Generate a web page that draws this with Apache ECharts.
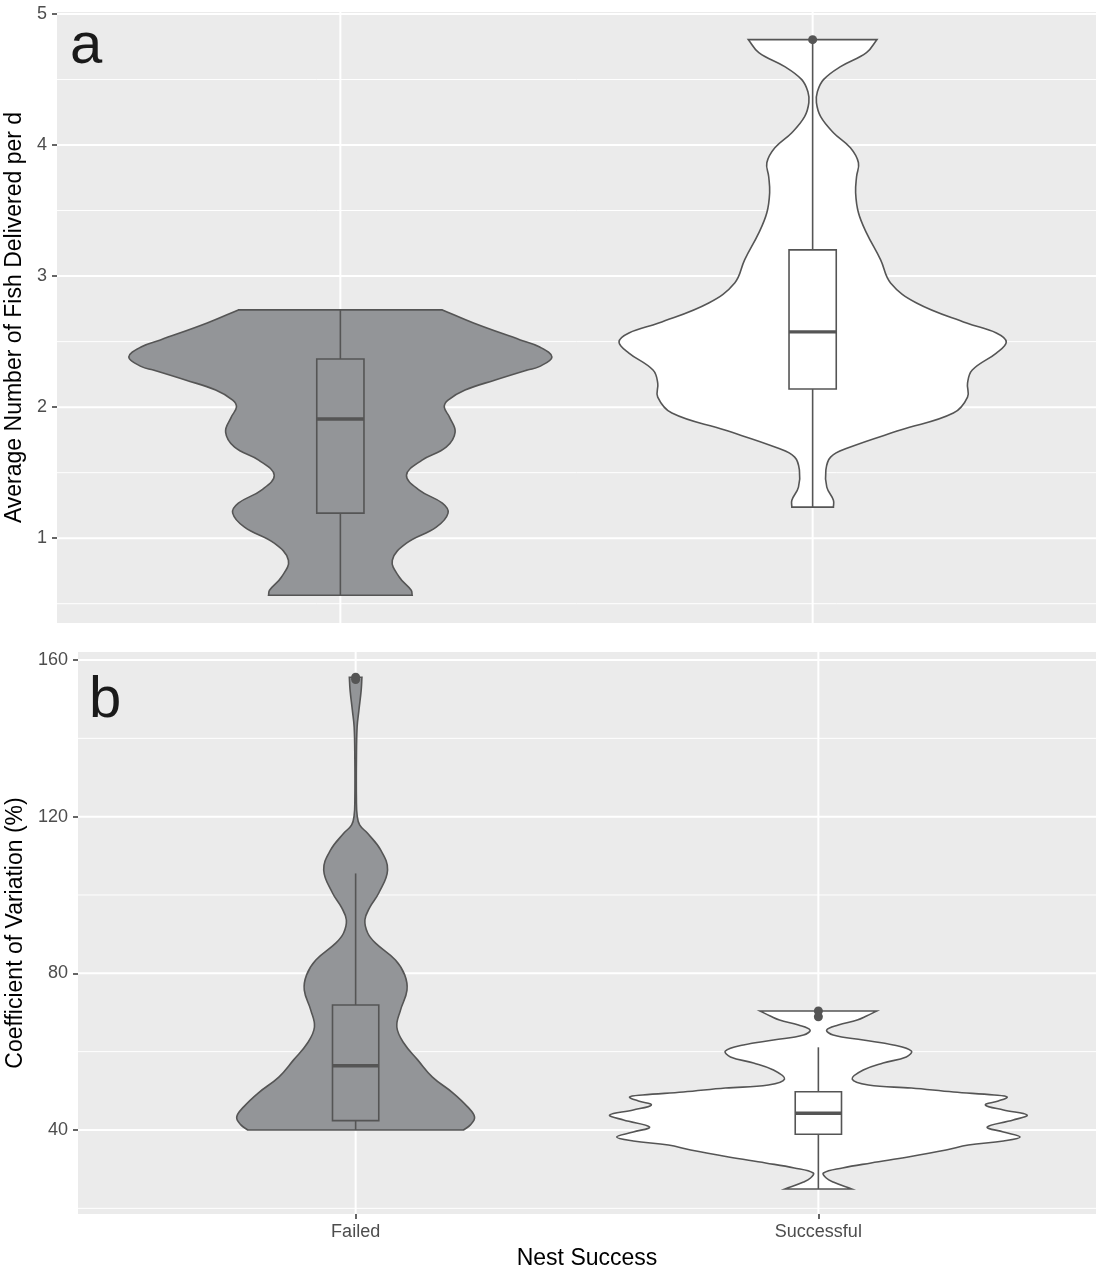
<!DOCTYPE html>
<html>
<head>
<meta charset="utf-8">
<title>Nest success violins</title>
<script src="https://cdn.jsdelivr.net/npm/echarts@6/dist/echarts.min.js"></script>
<style>
  html, body { margin: 0; padding: 0; background: #fff; }
  #chart { width: 1103px; height: 1270px; }
</style>
</head>
<body>
<div id="chart"></div>
<script>
const categories = ['Failed', 'Successful'];

// panel a - average number of fish delivered per day
const fishTicks = [1, 2, 3, 4, 5];
const fishMinorTicks = [0.5, 1.5, 2.5, 3.5, 4.5];
// violin outline, top to bottom: [value, half width in category units]
const fishFailedViolin = [
  [2.742, 0.216], [2.642, 0.282], [2.513, 0.381], [2.461, 0.421], [2.383, 0.448],
  [2.309, 0.421], [2.283, 0.396], [2.207, 0.328], [2.131, 0.264], [2.054, 0.228],
  [2.001, 0.220], [1.924, 0.231], [1.810, 0.243], [1.695, 0.224], [1.596, 0.173],
  [1.481, 0.140], [1.367, 0.167], [1.267, 0.216], [1.191, 0.228], [1.084, 0.203],
  [0.962, 0.140], [0.832, 0.110], [0.702, 0.125], [0.603, 0.150], [0.565, 0.152]
];
const fishSuccessViolin = [
  [4.804, 0.136], [4.705, 0.114], [4.598, 0.059], [4.499, 0.023], [4.407, 0.010],
  [4.323, 0.008], [4.216, 0.017], [4.094, 0.044], [3.979, 0.080], [3.865, 0.097],
  [3.758, 0.093], [3.636, 0.091], [3.483, 0.097], [3.330, 0.114], [3.124, 0.144],
  [2.948, 0.165], [2.795, 0.220], [2.642, 0.326], [2.566, 0.389], [2.497, 0.410],
  [2.413, 0.389], [2.283, 0.338], [2.184, 0.328], [2.077, 0.328], [1.955, 0.298],
  [1.825, 0.186], [1.688, 0.074], [1.619, 0.038], [1.519, 0.028], [1.390, 0.030],
  [1.290, 0.044], [1.237, 0.044]
];
// [lower whisker, q1, median, q3, upper whisker]
const fishBoxes = [
  [0.565, 1.191, 1.909, 2.367, 2.742],
  [1.237, 2.138, 2.574, 3.200, 4.790]
];
const fishOutliers = [[2, 4.804]];

// panel b - coefficient of variation (%)
const cvTicks = [40, 80, 120, 160];
const cvMinorTicks = [20, 60, 100, 140];
const cvFailedViolin = [
  [155.6, 0.0136], [152.3, 0.0120], [147.2, 0.0071], [142.9, 0.0032], [134.5, 0.0017],
  [124.3, 0.0017], [120.4, 0.0032], [117.9, 0.0086], [115.8, 0.0253], [111.5, 0.054],
  [106.4, 0.069], [100.5, 0.050], [96.7, 0.030], [93.6, 0.020], [90.3, 0.026],
  [87.7, 0.043], [83.4, 0.086], [79.6, 0.106], [75.7, 0.111], [70.6, 0.097],
  [66.3, 0.089], [62.2, 0.104], [57.9, 0.134], [53.5, 0.166], [49.5, 0.210],
  [45.9, 0.242], [43.3, 0.257], [41.3, 0.248], [40.0, 0.233]
];
const cvSuccessViolin = [
  [70.38, 0.126], [69.10, 0.104], [68.08, 0.084], [66.81, 0.043], [65.53, 0.018],
  [64.25, 0.032], [62.97, 0.097], [61.70, 0.162], [60.17, 0.201], [58.64, 0.190],
  [57.11, 0.140], [55.32, 0.097], [53.02, 0.073], [51.49, 0.108], [50.72, 0.201],
  [49.70, 0.292], [48.94, 0.380], [48.42, 0.408], [47.40, 0.389], [46.38, 0.361],
  [45.11, 0.400], [43.83, 0.451], [42.55, 0.421], [40.77, 0.365], [39.49, 0.400],
  [38.21, 0.436], [37.19, 0.400], [36.17, 0.324], [34.89, 0.276], [33.11, 0.194],
  [31.58, 0.114], [30.30, 0.052], [29.02, 0.011], [27.74, 0.017], [26.72, 0.032],
  [24.94, 0.072]
];
const cvBoxes = [
  [40.0, 42.38, 56.42, 71.91, 105.5],
  [24.94, 38.90, 44.26, 49.78, 61.11]
];
const cvOutliers = [[1, 155.6], [1, 155.0], [2, 70.4], [2, 68.9]];

const fills = ['#939598', '#ffffff'];
const lineColor = '#555555';
const font = '"Liberation Sans", Arial, Helvetica, sans-serif';

const chart = echarts.init(document.getElementById('chart'));

// white ggplot-like grid lines drawn on the panel
function gridLineSeries(idx, majors, minors) {
  const lines = majors.map(v => ['h', v, 2])
    .concat(minors.map(v => ['h', v, 1]))
    .concat(categories.map((c, i) => ['v', i + 1, 2]));
  return {
    type: 'custom',
    xAxisIndex: idx,
    yAxisIndex: idx,
    silent: true,
    z: 1,
    data: lines.map(() => [1.5]),
    renderItem: function (params, api) {
      const d = lines[params.dataIndex];
      const cs = params.coordSys;
      if (d[0] === 'h') {
        const y = api.coord([1.5, d[1]])[1];
        return { type: 'line', shape: { x1: cs.x, y1: y, x2: cs.x + cs.width, y2: y },
          style: { stroke: '#ffffff', lineWidth: d[2] } };
      }
      const x = api.coord([d[1], 1])[0];
      return { type: 'line', shape: { x1: x, y1: cs.y, x2: x, y2: cs.y + cs.height },
        style: { stroke: '#ffffff', lineWidth: d[2] } };
    }
  };
}

function violinSeries(idx, outlines) {
  return {
    type: 'custom',
    xAxisIndex: idx,
    yAxisIndex: idx,
    silent: true,
    z: 3,
    data: outlines.map((o, i) => [i + 1]),
    renderItem: function (params, api) {
      const i = params.dataIndex;
      const cx = i + 1;
      const pts = outlines[i];
      const right = pts.map(p => api.coord([cx + p[1], p[0]]));
      const left = pts.slice().reverse().map(p => api.coord([cx - p[1], p[0]]));
      // repeat the four corner points so the smoothing keeps the trimmed ends square
      const n = right.length;
      const ring = [right[0]].concat(right, [right[n - 1], left[0]], left, [left[n - 1]]);
      return {
        type: 'polygon',
        shape: { points: ring, smooth: 0.4 },
        style: { fill: fills[i], stroke: lineColor, lineWidth: 1.6 }
      };
    }
  };
}

function boxSeries(idx, boxes) {
  return {
    type: 'custom',
    xAxisIndex: idx,
    yAxisIndex: idx,
    silent: true,
    z: 4,
    data: boxes.map((b, i) => [i + 1]),
    renderItem: function (params, api) {
      const i = params.dataIndex;
      const b = boxes[i];
      const cx = i + 1;
      const hw = 0.05;
      const top = api.coord([cx, b[4]]);
      const q3 = api.coord([cx - hw, b[3]]);
      const q1 = api.coord([cx + hw, b[1]]);
      const bot = api.coord([cx, b[0]]);
      const medL = api.coord([cx - hw, b[2]]);
      const medR = api.coord([cx + hw, b[2]]);
      const lineStyle = { stroke: lineColor, lineWidth: 1.6 };
      return {
        type: 'group',
        children: [
          { type: 'line', shape: { x1: top[0], y1: top[1], x2: top[0], y2: q3[1] }, style: lineStyle },
          { type: 'line', shape: { x1: bot[0], y1: q1[1], x2: bot[0], y2: bot[1] }, style: lineStyle },
          { type: 'rect', shape: { x: q3[0], y: q3[1], width: q1[0] - q3[0], height: q1[1] - q3[1] },
            style: { fill: fills[i], stroke: lineColor, lineWidth: 1.6 } },
          { type: 'line', shape: { x1: medL[0], y1: medL[1], x2: medR[0], y2: medR[1] },
            style: { stroke: lineColor, lineWidth: 3.4 } }
        ]
      };
    }
  };
}

function outlierSeries(idx, pts) {
  return {
    type: 'scatter',
    xAxisIndex: idx,
    yAxisIndex: idx,
    silent: true,
    z: 5,
    symbolSize: 9,
    itemStyle: { color: lineColor, opacity: 1 },
    data: pts
  };
}

const tickLabelStyle = { color: '#4D4D4D', fontSize: 18, fontFamily: font };
const titleStyle = { color: '#000000', fontSize: 23, fontFamily: font };

const option = {
  animation: false,
  backgroundColor: '#ffffff',
  grid: [
    { left: 57, top: 12, right: 7, height: 611, show: true, backgroundColor: '#EBEBEB', borderWidth: 0, outerBoundsMode: 'none' },
    { left: 78, top: 652, right: 7, height: 562, show: true, backgroundColor: '#EBEBEB', borderWidth: 0, outerBoundsMode: 'none' }
  ],
  xAxis: [
    {
      type: 'value', gridIndex: 0, min: 0.4, max: 2.6,
      axisLine: { show: false }, axisTick: { show: false },
      axisLabel: { show: false }, splitLine: { show: false }
    },
    {
      type: 'value', gridIndex: 1, min: 0.4, max: 2.6,
      name: 'Nest Success', nameLocation: 'middle', nameGap: 33,
      nameTextStyle: titleStyle,
      axisLine: { show: false },
      axisTick: { show: true, customValues: [1, 2], length: 5, lineStyle: { color: '#333333', width: 1.5 } },
      axisLabel: Object.assign({ customValues: [1, 2], margin: 9,
        formatter: v => categories[Math.round(v) - 1] }, tickLabelStyle),
      splitLine: { show: false }
    }
  ],
  yAxis: [
    {
      type: 'value', gridIndex: 0, min: 0.353, max: 5.015,
      name: 'Average Number of Fish Delivered per d', nameLocation: 'middle', nameGap: 25,
      nameTextStyle: titleStyle,
      axisLine: { show: false },
      axisTick: { show: true, customValues: fishTicks, length: 5, lineStyle: { color: '#333333', width: 1.5 } },
      axisLabel: Object.assign({ customValues: fishTicks, margin: 10 }, tickLabelStyle),
      splitLine: { show: false }
    },
    {
      type: 'value', gridIndex: 1, min: 18.55, max: 162.04,
      name: 'Coefficient of Variation (%)', nameLocation: 'middle', nameGap: 46,
      nameTextStyle: titleStyle,
      axisLine: { show: false },
      axisTick: { show: true, customValues: cvTicks, length: 5, lineStyle: { color: '#333333', width: 1.5 } },
      axisLabel: Object.assign({ customValues: cvTicks, margin: 10 }, tickLabelStyle),
      splitLine: { show: false }
    }
  ],
  graphic: [
    { type: 'text', x: 70, y: 47, style: { text: 'a', fontSize: 58, fontFamily: font, fill: '#1a1a1a', verticalAlign: 'middle' } },
    { type: 'text', x: 89, y: 701, style: { text: 'b', fontSize: 58, fontFamily: font, fill: '#1a1a1a', verticalAlign: 'middle' } }
  ],
  series: [
    gridLineSeries(0, fishTicks, fishMinorTicks),
    gridLineSeries(1, cvTicks, cvMinorTicks),
    violinSeries(0, [fishFailedViolin, fishSuccessViolin]),
    violinSeries(1, [cvFailedViolin, cvSuccessViolin]),
    boxSeries(0, fishBoxes),
    boxSeries(1, cvBoxes),
    outlierSeries(0, fishOutliers),
    outlierSeries(1, cvOutliers)
  ]
};

chart.setOption(option);
</script>
</body>
</html>
